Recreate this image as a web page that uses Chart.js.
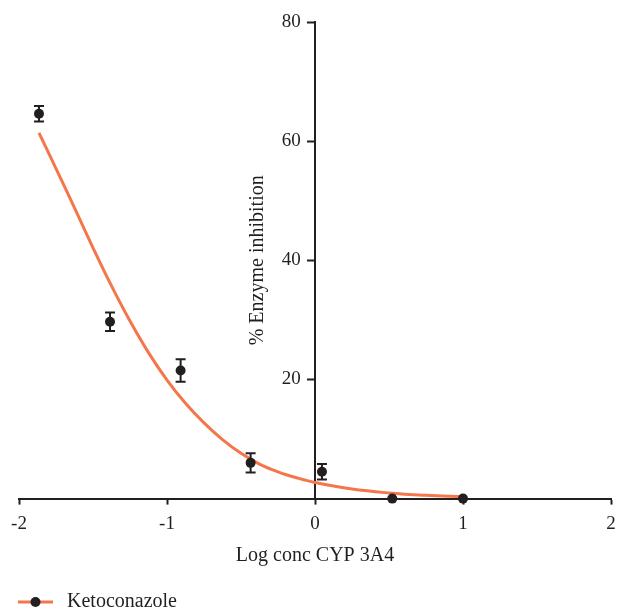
<!DOCTYPE html>
<html>
<head>
<meta charset="utf-8">
<script src="https://cdn.jsdelivr.net/npm/chart.js@4.4.0/dist/chart.umd.min.js"></script>
<style>
	body { margin: 0; background: #fff; }
	#wrap { width: 618px; height: 614px; }
</style>
</head>
<body>
<div id="wrap"><canvas id="myChart"></canvas></div>
<script>
// measured points (mean +/- error)
const logConc = [-1.865, -1.385, -0.908, -0.435, 0.047, 0.522, 1.0];
const inhibition = [64.6, 29.7, 21.5, 6.0, 4.5, 0, 0];
const errBar = [1.3, 1.55, 1.9, 1.6, 1.3, 0, 0];

// fitted curve
const fitX = [-1.865, -1.75, -1.625, -1.5, -1.375, -1.25, -1.125, -1.0, -0.875, -0.75, -0.625, -0.5, -0.375, -0.25, -0.125, 0, 0.25, 0.5, 0.75, 1.0];
const fitY = [61.4, 55.4, 48.8, 42.1, 35.7, 29.8, 24.5, 19.9, 16.0, 12.7, 9.9, 7.6, 5.8, 4.5, 3.5, 2.7, 1.6, 0.95, 0.55, 0.3];

const xTicks = [-2, -1, 0, 1, 2];
const yTicks = [20, 40, 60, 80];
const yTitle = '% Enzyme inhibition';

const dark = '#231F20';
const orange = '#F4764A';
const fontFam = '"Liberation Serif", "DejaVu Serif", serif';

const ctx = document.getElementById('myChart');

// legend marker: orange line with a black dot
const marker = document.createElement('canvas');
marker.width = 39;
marker.height = 12;
const mctx = marker.getContext('2d');
mctx.strokeStyle = orange;
mctx.lineWidth = 3;
mctx.beginPath();
mctx.moveTo(0, 6);
mctx.lineTo(35, 6);
mctx.stroke();
mctx.fillStyle = dark;
mctx.beginPath();
mctx.arc(17.5, 6, 5, 0, Math.PI * 2);
mctx.fill();

const errorBars = {
	id: 'errorBars',
	afterDatasetsDraw(chart) {
		const c = chart.ctx;
		const xs = chart.scales.x;
		const ys = chart.scales.y;
		c.save();
		c.strokeStyle = dark;
		c.lineWidth = 2;
		for (let i = 0; i < logConc.length; i++) {
			if (!errBar[i]) continue;
			const px = xs.getPixelForValue(logConc[i]);
			const top = ys.getPixelForValue(inhibition[i] + errBar[i]);
			const bot = ys.getPixelForValue(inhibition[i] - errBar[i]);
			c.beginPath();
			c.moveTo(px, top); c.lineTo(px, bot);
			c.moveTo(px - 5, top); c.lineTo(px + 5, top);
			c.moveTo(px - 5, bot); c.lineTo(px + 5, bot);
			c.stroke();
		}
		c.restore();
	}
};

// y title for the centred axis, reading upwards like the original
const yAxisTitle = {
	id: 'yAxisTitle',
	afterDraw(chart) {
		const c = chart.ctx;
		const ys = chart.scales.y;
		const axisX = chart.scales.x.getPixelForValue(0);
		c.save();
		c.translate(axisX - 57, (ys.top + ys.bottom) / 2);
		c.rotate(-Math.PI / 2);
		c.fillStyle = dark;
		c.font = '20px ' + fontFam;
		c.textAlign = 'center';
		c.textBaseline = 'middle';
		c.fillText(yTitle, 0, 0);
		c.restore();
	}
};

new Chart(ctx, {
	type: 'line',
	data: {
		datasets: [{
			label: 'Ketoconazole',
			data: logConc.map((v, i) => ({ x: v, y: inhibition[i] })),
			showLine: false,
			pointRadius: 5,
			pointHoverRadius: 5,
			pointBackgroundColor: dark,
			pointBorderColor: dark,
			pointBorderWidth: 0,
			clip: false
		}, {
			label: 'fit',
			data: fitX.map((v, i) => ({ x: v, y: fitY[i] })),
			borderColor: orange,
			borderWidth: 3,
			pointRadius: 0,
			tension: 0.4,
			clip: false
		}]
	},
	options: {
		responsive: true,
		maintainAspectRatio: false,
		animation: false,
		layout: {
			padding: { left: 9, right: -60, top: 22, bottom: -8 }
		},
		plugins: {
			tooltip: { enabled: false },
			legend: {
				position: 'bottom',
				align: 'start',
				labels: {
					usePointStyle: true,
					pointStyleWidth: 39,
					padding: 9,
					color: dark,
					font: { family: fontFam, size: 20 },
					filter: (item) => item.datasetIndex === 0,
					generateLabels: (chart) => {
						const items = Chart.defaults.plugins.legend.labels.generateLabels(chart);
						items.forEach(it => { it.pointStyle = marker; });
						return items;
					}
				}
			}
		},
		scales: {
			x: {
				type: 'linear',
				min: -2,
				max: 2,
				afterBuildTicks: (scale) => { scale.ticks = xTicks.map(v => ({ value: v })); },
				ticks: {
					color: dark,
					font: { family: fontFam, size: 19 },
					padding: 8,
					maxRotation: 0,
					callback: (v) => String(v)
				},
				grid: { drawOnChartArea: false, drawTicks: true, tickLength: 6, tickWidth: 2, tickColor: dark },
				border: { display: true, color: dark, width: 2 },
				title: {
					display: true,
					text: 'Log conc CYP 3A4',
					color: dark,
					font: { family: fontFam, size: 20 },
					padding: { top: 0, bottom: 15.6 }
				},
				afterFit: (scale) => { scale.paddingLeft = 19; scale.paddingRight = 7; }
			},
			y: {
				type: 'linear',
				position: { x: 0 },
				min: 0,
				max: 80,
				afterBuildTicks: (scale) => { scale.ticks = yTicks.map(v => ({ value: v })); },
				ticks: {
					color: dark,
					font: { family: fontFam, size: 19 },
					callback: (v) => v + '   '
				},
				grid: { drawOnChartArea: false, drawTicks: true, tickLength: 7, tickWidth: 2, tickColor: dark },
				border: { display: true, color: dark, width: 2 },
				title: { display: false },
				afterFit: (scale) => { scale.width = 67; }
			}
		}
	},
	plugins: [errorBars, yAxisTitle]
});
</script>
</body>
</html>
